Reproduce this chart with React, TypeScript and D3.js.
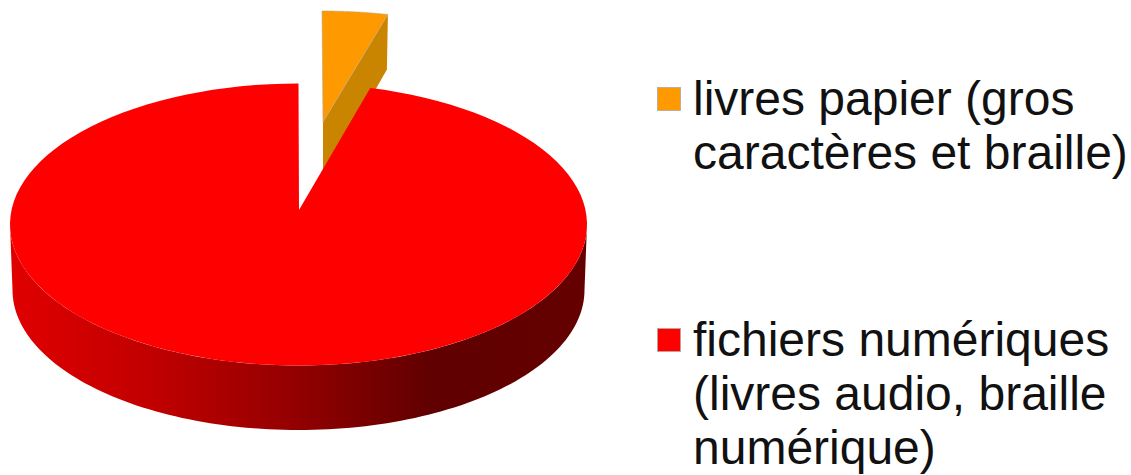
import React from "react";
import * as d3 from "d3";

const categories = ["livres papier", "fichiers numériques"];
const values = [4, 96];
const legendLines = [
  ["livres papier (gros", "caractères et braille)"],
  ["fichiers numériques", "(livres audio, braille", "numérique)"],
];
const colors = ["#ff9900", "#ff0000"];

const width = 1131;
const height = 475;

// the pie is tilted, so the apex is not at the ellipse centre
const makeDisc = (cx: number, cy: number, rx: number, ry: number) => ({
  x: d3.scaleLinear().domain([-1, 1]).range([cx - rx, cx + rx]),
  y: d3.scaleLinear().domain([-1, 1]).range([cy + ry, cy - ry]),
});
const topDisc = makeDisc(298.5, 224.5, 288.5, 141);
const bottomDisc = makeDisc(298.5, 290, 286, 140);
const orangeDisc = makeDisc(322, 122, 265, 111);

const arcPoints = (disc: ReturnType<typeof makeDisc>, a0: number, a1: number): [number, number][] =>
  d3.range(0, 121).map((i) => {
    const a = a0 + ((a1 - a0) * i) / 120;
    return [disc.x(Math.sin(a)), disc.y(Math.cos(a))] as [number, number];
  });

const line = d3.line();

const App = () => {
  const pie = d3.pie<number>().sort(null)(values);
  const orange = pie[0];
  const red = pie[1];

  const redApex: [number, number] = [299, 210];
  const orangeApex: [number, number] = [323, 122];

  const redTop = line([redApex, ...arcPoints(topDisc, red.startAngle, red.endAngle)]) + "Z";
  const wall =
    line([
      ...arcPoints(topDisc, Math.PI / 2, (3 * Math.PI) / 2),
      ...arcPoints(bottomDisc, Math.PI / 2, (3 * Math.PI) / 2).reverse(),
    ]) + "Z";

  const orangeArc = arcPoints(orangeDisc, orange.startAngle, orange.endAngle);
  const orangeEnd = orangeArc[orangeArc.length - 1];
  const orangeTop = line([orangeApex, ...orangeArc]) + "Z";
  const orangeWall =
    line([orangeApex, orangeEnd, [orangeEnd[0] - 1, orangeEnd[1] + 55], [orangeApex[0], orangeApex[1] + 60]]) + "Z";

  return (
    <svg
      width={width}
      height={height}
      style={{ position: "absolute", left: 0, top: 0 }}
      fontFamily="'Liberation Sans', Arial, sans-serif"
    >
      <defs>
        <linearGradient id="wallGrad" gradientUnits="userSpaceOnUse" x1={10} x2={587} y1={0} y2={0}>
          <stop offset="0" stopColor="#e00000" />
          <stop offset="0.25" stopColor="#c00000" />
          <stop offset="0.5" stopColor="#920000" />
          <stop offset="0.73" stopColor="#600000" />
          <stop offset="1" stopColor="#640000" />
        </linearGradient>
      </defs>
      <rect width={width} height={height} fill="#fff" />

      <path d={orangeWall} fill="#c98500" />
      <path d={orangeTop} fill={colors[0]} stroke="#b8a888" strokeWidth={0.6} />
      <path d={wall} fill="url(#wallGrad)" />
      <path d={redTop} fill={colors[1]} />

      {categories.map((c, i) => {
        const y0 = i === 0 ? 87 : 328;
        return (
          <g key={c}>
            <rect x={657.5} y={y0 + 0.5} width={23} height={23} fill={colors[i]} stroke="#b0a8a0" strokeWidth={0.8} />
            {legendLines[i].map((t, j) => (
              <text key={t} x={693} y={y0 + 27.5 + j * 54} fontSize={48} fill="#111">
                {t}
              </text>
            ))}
          </g>
        );
      })}
    </svg>
  );
};

export default App;
